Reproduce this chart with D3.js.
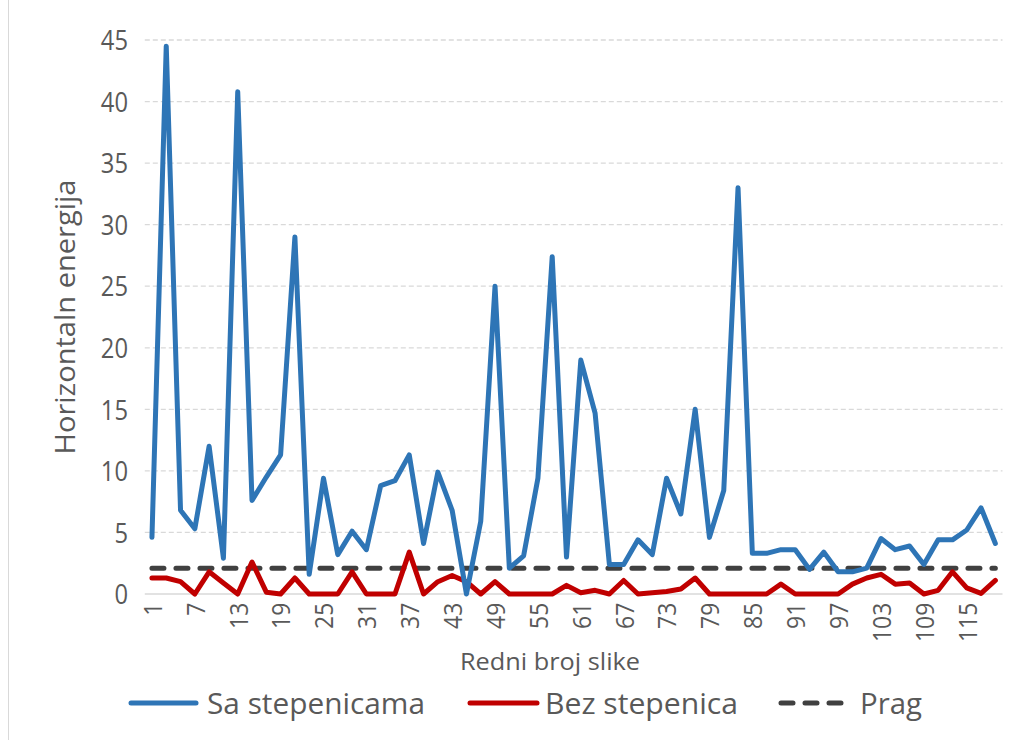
<!DOCTYPE html>
<html>
<head>
<meta charset="utf-8">
<script src="https://cdn.jsdelivr.net/npm/d3@7"></script>
<style>
  html, body { margin: 0; padding: 0; background: #fff; }
  svg { display: block; font-family: "Open Sans", "Noto Sans", sans-serif; }
</style>
</head>
<body>
<div id="chart"></div>
<script>
// Redni broj slike (odd numbers, every 3rd shown on the axis)
const categories = d3.range(1, 120, 2);

const saStepenicama = [
  4.6, 44.5, 6.8, 5.3, 12.0, 2.9, 40.8, 7.6, 9.5, 11.3,
  29.0, 1.6, 9.4, 3.2, 5.1, 3.6, 8.8, 9.2, 11.3, 4.1,
  9.9, 6.8, 0.0, 5.9, 25.0, 2.1, 3.1, 9.4, 27.4, 3.0,
  19.0, 14.7, 2.4, 2.4, 4.4, 3.2, 9.4, 6.5, 15.0, 4.6,
  8.4, 33.0, 3.3, 3.3, 3.6, 3.6, 2.0, 3.4, 1.8, 1.8,
  2.1, 4.5, 3.6, 3.9, 2.4, 4.4, 4.4, 5.2, 7.0, 4.1
];

const bezStepenica = [
  1.3, 1.3, 1.0, 0.0, 1.8, 0.9, 0.0, 2.6, 0.15, 0.0,
  1.3, 0.0, 0.0, 0.0, 1.8, 0.0, 0.0, 0.0, 3.4, 0.0,
  1.0, 1.5, 1.0, 0.0, 1.0, 0.0, 0.0, 0.0, 0.0, 0.7,
  0.1, 0.3, 0.0, 1.1, 0.0, 0.1, 0.2, 0.4, 1.3, 0.0,
  0.0, 0.0, 0.0, 0.0, 0.8, 0.0, 0.0, 0.0, 0.0, 0.8,
  1.3, 1.6, 0.8, 0.9, 0.0, 0.3, 1.8, 0.5, 0.05, 1.1
];

const pragValue = 2.1;
const prag = categories.map(() => pragValue);

const yTicks = [0, 5, 10, 15, 20, 25, 30, 35, 40, 45];
const xTickLabels = categories.filter((d, i) => i % 3 === 0);

const seriesNames = ['Sa stepenicama', 'Bez stepenica', 'Prag'];

const width = 1018;
const height = 740;
const textColor = '#595959';
const sx = 0.88; // horizontal squeeze of the tick text, like the original rendering

const svg = d3.select('#chart')
  .append('svg')
  .attr('width', width)
  .attr('height', height);

// chart border (only the left edge is visible in the crop)
svg.append('line')
  .attr('x1', 8.5).attr('x2', 8.5)
  .attr('y1', 0).attr('y2', height)
  .attr('stroke', '#d9d9d9')
  .attr('stroke-width', 1);

const x = d3.scalePoint()
  .domain(categories)
  .range([144.8, 1002.5])
  .padding(0.5);

const y = d3.scaleLinear()
  .domain([0, 45])
  .range([594, 40]);

// gridlines
svg.append('g')
  .selectAll('line')
  .data(yTicks.filter(d => d > 0))
  .join('line')
  .attr('x1', 144.8)
  .attr('x2', 1002.5)
  .attr('y1', d => y(d))
  .attr('y2', d => y(d))
  .attr('stroke', '#d9d9d9')
  .attr('stroke-width', 1.3)
  .attr('stroke-dasharray', '5,3');

// y axis (labels only)
const yAxis = svg.append('g')
  .attr('transform', 'translate(128,0)')
  .call(d3.axisLeft(y).tickValues(yTicks).tickSize(0).tickPadding(0));
yAxis.select('.domain').remove();
yAxis.selectAll('text')
  .attr('font-size', 27)
  .attr('font-family', '"Open Sans", sans-serif')
  .attr('fill', textColor)
  .attr('x', 0)
  .attr('dy', '0.36em')
  .attr('transform', `scale(${sx},1)`);

// x axis baseline
svg.append('line')
  .attr('x1', 144.8).attr('x2', 1002.5)
  .attr('y1', y(0)).attr('y2', y(0))
  .attr('stroke', '#d9d9d9')
  .attr('stroke-width', 1.5);

// x axis (rotated labels)
const xAxis = svg.append('g')
  .attr('transform', `translate(0,${y(0)})`)
  .call(d3.axisBottom(x).tickValues(xTickLabels).tickSize(0).tickPadding(0));
xAxis.select('.domain').remove();
xAxis.selectAll('text')
  .attr('font-size', 26)
  .attr('font-family', '"Open Sans", sans-serif')
  .attr('fill', textColor)
  .attr('text-anchor', 'end')
  .attr('x', -10)
  .attr('y', 0)
  .attr('dy', '0.36em')
  .attr('transform', `rotate(-90) scale(${sx},1)`);

// series lines
const line = d3.line()
  .x((d, i) => x(categories[i]))
  .y(d => y(d));

const seriesStyles = [
  { data: saStepenicama, color: '#2e75b6', dash: null },
  { data: bezStepenica, color: '#c00000', dash: null },
  { data: prag, color: '#404040', dash: '12,12' }
];

seriesStyles.slice().reverse().forEach(s => {
  svg.append('path')
    .datum(s.data)
    .attr('d', line)
    .attr('fill', 'none')
    .attr('stroke', s.color)
    .attr('stroke-width', 5)
    .attr('stroke-linejoin', 'round')
    .attr('stroke-linecap', 'round')
    .attr('stroke-dasharray', s.dash);
});

// axis titles
svg.append('text')
  .attr('transform', 'translate(75,317) rotate(-90)')
  .attr('text-anchor', 'middle')
  .attr('font-size', 27)
  .attr('fill', textColor)
  .attr('textLength', 275)
  .attr('lengthAdjust', 'spacingAndGlyphs')
  .text('Horizontaln energija');

svg.append('text')
  .attr('x', 460)
  .attr('y', 670)
  .attr('font-size', 23)
  .attr('fill', textColor)
  .attr('textLength', 180)
  .attr('lengthAdjust', 'spacingAndGlyphs')
  .text('Redni broj slike');

// legend
const legendItems = [
  { name: seriesNames[0], color: '#2e75b6', dash: null, x1: 131, x2: 196, tx: 207, tw: 218 },
  { name: seriesNames[1], color: '#c00000', dash: null, x1: 470, x2: 537, tx: 545, tw: 193 },
  { name: seriesNames[2], color: '#404040', dash: '12,12', x1: 781, x2: 843, tx: 860, tw: 62 }
];

const legend = svg.append('g');
legendItems.forEach(d => {
  legend.append('line')
    .attr('x1', d.x1).attr('x2', d.x2)
    .attr('y1', 703).attr('y2', 703)
    .attr('stroke', d.color)
    .attr('stroke-width', 5)
    .attr('stroke-linecap', 'round')
    .attr('stroke-dasharray', d.dash);
  legend.append('text')
    .attr('x', d.tx)
    .attr('y', 714)
    .attr('font-size', 30)
    .attr('fill', textColor)
    .attr('textLength', d.tw)
    .attr('lengthAdjust', 'spacingAndGlyphs')
    .text(d.name);
});
</script>
</body>
</html>
